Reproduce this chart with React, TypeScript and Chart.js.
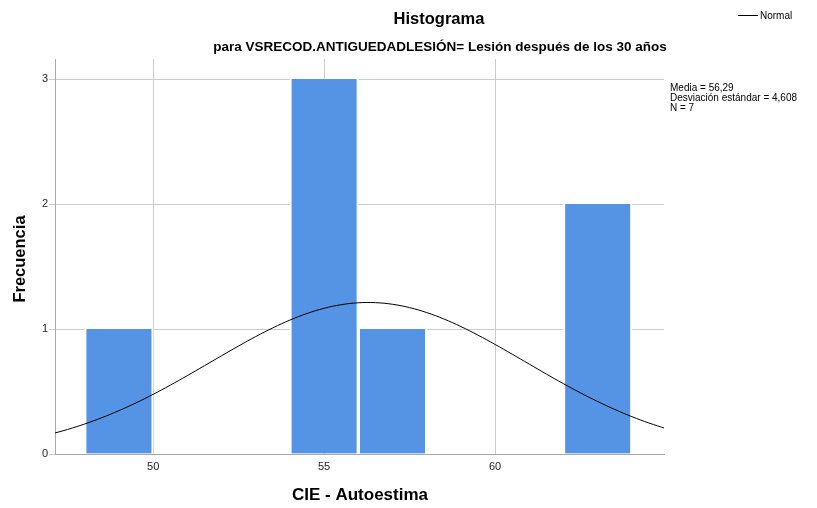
import React, { useEffect, useRef } from "react";
import { Chart, registerables } from "chart.js";

Chart.register(...registerables);

// ---- Data ----
const binCenters = [49, 55, 57, 63];
const binCounts = [1, 3, 1, 2];

const curveX = [
  47, 47.5, 48, 48.5, 49, 49.5, 50, 50.5, 51, 51.5, 52, 52.5, 53, 53.5, 54, 54.5,
  55, 55.5, 56, 56.5, 57, 57.5, 58, 58.5, 59, 59.5, 60, 60.5, 61, 61.5, 62, 62.5,
  63, 63.5, 64, 64.5, 65,
];
const curveY = [
  0.1588, 0.1965, 0.2403, 0.2904, 0.3468, 0.4093, 0.4774, 0.5504, 0.6272, 0.7062,
  0.7858, 0.8642, 0.9394, 1.0091, 1.0713, 1.124, 1.1655, 1.1944, 1.2097, 1.2108,
  1.1978, 1.171, 1.1314, 1.0804, 1.0196, 0.9509, 0.8765, 0.7985, 0.7189, 0.6396,
  0.5625, 0.4888, 0.4199, 0.3564, 0.2989, 0.2479, 0.2031,
];

const xTicks = [50, 55, 60];
const yTicks = [0, 1, 2, 3];
const xMin = 47.13;
const xMax = 64.94;
const yMax = 3.16;

const titleText = "Histograma";
const subtitleText = "para VSRECOD.ANTIGUEDADLESIÓN= Lesión después de los 30 años";
const xTitle = "CIE - Autoestima";
const yTitle = "Frecuencia";
const legendLabel = "Normal";
const statLines = ["Media = 56,29", "Desviación estándar = 4,608", "N = 7"];

const FONT = '"Liberation Sans", Arial, Helvetica, sans-serif';

const textPlugin = {
  id: "spssText",
  afterDraw(chart: any) {
    const ctx = chart.ctx as CanvasRenderingContext2D;
    ctx.save();
    ctx.fillStyle = "#000";
    ctx.textBaseline = "middle";
    ctx.textAlign = "center";

    ctx.font = `bold 16.5px ${FONT}`;
    ctx.fillText(titleText, 439, 19);

    ctx.font = `bold 13.5px ${FONT}`;
    ctx.fillText(subtitleText, 440, 47);

    ctx.font = `bold 17px ${FONT}`;
    ctx.fillText(xTitle, 360, 495);

    ctx.save();
    ctx.font = `bold 16.5px ${FONT}`;
    ctx.translate(20, 259);
    ctx.rotate(-Math.PI / 2);
    ctx.fillText(yTitle, 0, 0);
    ctx.restore();

    // legend
    ctx.strokeStyle = "#000";
    ctx.lineWidth = 1;
    ctx.beginPath();
    ctx.moveTo(738, 15.5);
    ctx.lineTo(758, 15.5);
    ctx.stroke();
    ctx.textAlign = "left";
    ctx.font = `10px ${FONT}`;
    ctx.fillText(legendLabel, 760, 16);

    // stats
    ctx.font = `10px ${FONT}`;
    statLines.forEach((s, i) => {
      ctx.fillText(s, 670, 88 + i * 10);
    });
    ctx.restore();
  },
};

export default function App() {
  const ref = useRef<HTMLCanvasElement | null>(null);

  useEffect(() => {
    if (!ref.current) return;
    const chart = new Chart(ref.current, {
      type: "bar",
      data: {
        datasets: [
          {
            type: "line",
            label: legendLabel,
            data: curveX.map((x, i) => ({ x, y: curveY[i] })),
            borderColor: "#000000",
            borderWidth: 1,
            pointRadius: 0,
            tension: 0.4,
            fill: false,
            order: 0,
          } as any,
          {
            type: "bar",
            label: "Frecuencia",
            data: binCenters.map((x, i) => ({ x, y: binCounts[i] })),
            backgroundColor: "#5594E5",
            borderColor: "#ffffff",
            borderWidth: { left: 2, right: 2, top: 0, bottom: 0 },
            categoryPercentage: 1,
            barPercentage: 1,
            order: 1,
          } as any,
        ],
      },
      options: {
        animation: false,
        responsive: true,
        maintainAspectRatio: false,
        layout: { padding: { top: 59, right: 153, left: 0, bottom: 0 } },
        plugins: {
          legend: { display: false },
          tooltip: { enabled: false },
          title: { display: false },
        },
        scales: {
          x: {
            type: "linear",
            min: xMin,
            max: xMax,
            offset: false,
            afterBuildTicks: (s: any) => {
              s.ticks = xTicks.map((v) => ({ value: v }));
            },
            afterFit: (s: any) => {
              s.height = 54;
            },
            grid: {
              offset: false,
              color: "#cccccc",
              lineWidth: 1,
              drawTicks: false,
            },
            border: { color: "#a8a8a8", width: 1 },
            ticks: {
              padding: 6,
              color: "#222",
              font: { family: FONT, size: 11 },
              maxRotation: 0,
            },
          },
          y: {
            type: "linear",
            min: 0,
            max: yMax,
            afterBuildTicks: (s: any) => {
              s.ticks = yTicks.map((v) => ({ value: v }));
            },
            afterFit: (s: any) => {
              s.width = 55;
            },
            grid: {
              color: "#cccccc",
              lineWidth: 1,
              drawTicks: true,
              tickLength: 6,
            },
            border: { color: "#a8a8a8", width: 1 },
            ticks: {
              padding: 1,
              color: "#222",
              font: { family: FONT, size: 11 },
            },
          },
        },
      } as any,
      plugins: [textPlugin],
    });
    return () => chart.destroy();
  }, []);

  return (
    <div style={{ position: "fixed", left: 0, top: 0, width: 817, height: 508, background: "#fff" }}>
      <canvas ref={ref} />
    </div>
  );
}
